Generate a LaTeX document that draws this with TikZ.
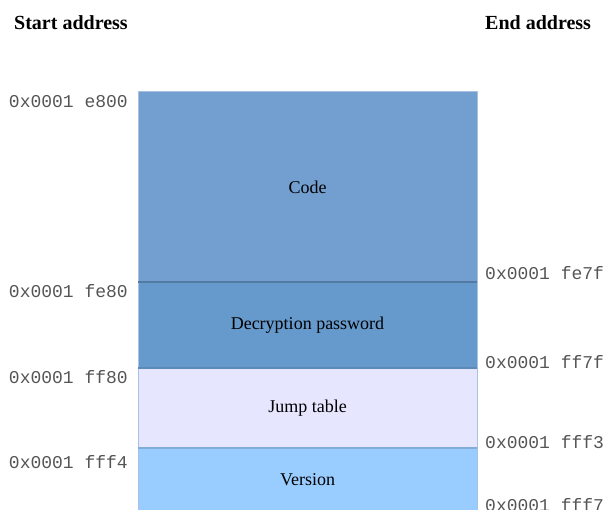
\documentclass[tikz,border=0pt]{standalone}
\usepackage{fontspec}
\setmainfont{Liberation Serif}
\setmonofont{Liberation Mono}
\usetikzlibrary{calc}
\definecolor{codefill}{HTML}{729FCF}
\definecolor{pwdfill}{HTML}{6699CC}
\definecolor{jumpfill}{HTML}{E6E6FF}
\definecolor{verfill}{HTML}{99CCFF}
\definecolor{edgeblue}{HTML}{A9C1E3}
\definecolor{addrgray}{HTML}{555555}
\tikzset{
  addr/.style={inner sep=0pt, font=\fontsize{18}{18}\selectfont\ttfamily, text=addrgray},
  part/.style={inner sep=0pt, font=\fontsize{18}{18}\selectfont},
  head/.style={inner sep=0pt, anchor=west, font=\fontsize{20}{20}\selectfont\bfseries}
}

\begin{document}
\begin{tikzpicture}[x=1pt,y=-1pt]
\useasboundingbox (0,0) rectangle (606,510);

\coordinate (A) at (138,92);
\coordinate (B) at (477,282);
\coordinate (C) at (477,368);
\coordinate (D) at (477,448);
\coordinate (E) at (477,514);

\fill[codefill] (A) rectangle (B);
\fill[pwdfill] (A|-B) rectangle (C);
\fill[jumpfill] (A|-C) rectangle (D);
\fill[verfill] (A|-D) rectangle (E);

\draw[edgeblue, line width=1pt] (A|-E)--(A)--(A-|B)--(E);
\draw[pwdfill!80!black, line width=1.2pt] (A|-B)--(B);
\draw[pwdfill!90!black, line width=1.2pt] (A|-C)--(C);
\draw[verfill!85!black, line width=1.2pt] (A|-D)--(D);

\node[head] (start) at (14,23) {Start address};
\node[head] (end) at (485,23) {End address};

\node[part] (code) at (307.5,187) {Code};
\node[part] (pwd) at (307.5,325) {Decryption password};
\node[part] (jump) at (307.5,408) {Jump table};
\node[part] (ver) at (307.5,480) {Version};

\node[addr, anchor=east] (s1) at (128,102) {0x0001 e800};
\node[addr, anchor=east] (s2) at (128,291) {0x0001 fe80};
\node[addr, anchor=east] (s3) at (128,377) {0x0001 ff80};
\node[addr, anchor=east] (s4) at (128,462) {0x0001 fff4};

\node[addr, anchor=west] (e1) at (485,273) {0x0001 fe7f};
\node[addr, anchor=west] (e2) at (485,362) {0x0001 ff7f};
\node[addr, anchor=west] (e3) at (485,442) {0x0001 fff3};
\node[addr, anchor=west] (e4) at (485,505) {0x0001 fff7};

\end{tikzpicture}
\end{document}
